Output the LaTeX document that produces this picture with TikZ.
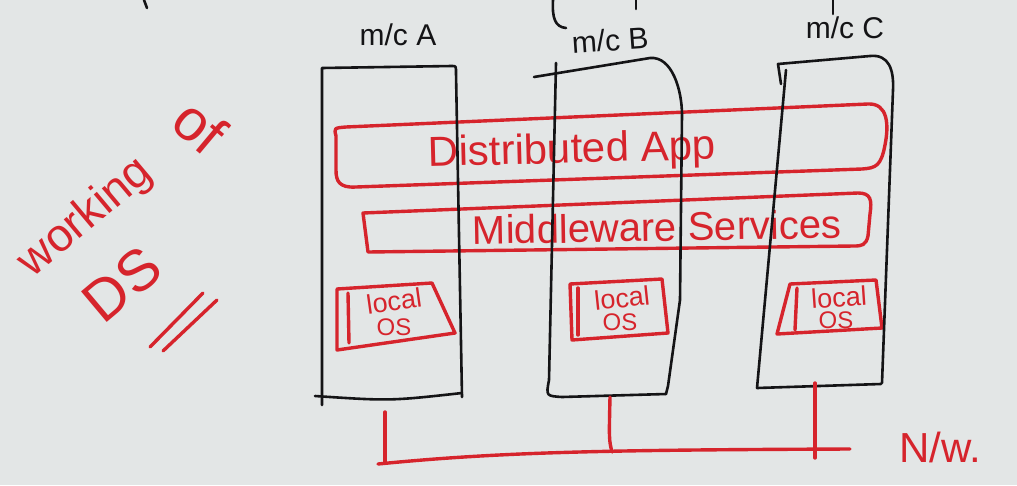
\documentclass[tikz,border=0pt]{standalone}
\usepackage{fontspec}
\setmainfont{Liberation Sans}
\definecolor{board}{RGB}{227,230,230}
\definecolor{ink}{RGB}{20,20,22}
\definecolor{marker}{RGB}{214,36,44}
\begin{document}
\begin{tikzpicture}[x=1pt,y=-1pt,
  blk/.style={draw=ink,line width=2.6pt,line cap=round,line join=round},
  rd/.style={draw=marker,line width=3.4pt,line cap=round,line join=round},
  rtext/.style={text=marker,inner sep=0pt},
  btext/.style={text=ink,inner sep=0pt,font=\fontsize{30}{32}\selectfont}]
\fill[board] (0,0) rectangle (1017,485);
\useasboundingbox (0,0) rectangle (1017,485);

% ---------- title on the left ----------
\node[rtext,rotate=40,font=\fontsize{46}{48}\selectfont] (working) at (86,218) {working};
\node[rtext,rotate=-40,font=\fontsize{58}{60}\selectfont] (of) at (200,126) {of};
\node[rtext,rotate=40,font=\fontsize{58}{60}\selectfont] (ds) at (122,284) {DS};
\draw[rd] (150,347) -- (203,293);
\draw[rd] (163,351) -- (217,300);

% ---------- red layers (drawn below the machines) ----------
\draw[rd] (336,136) .. controls (334,128) .. (346,127) -- (868,104)
  .. controls (888,103) and (889,125) .. (885,145)
  .. controls (881,166) and (876,168) .. (862,169) -- (356,187)
  .. controls (339,188) and (336,181) .. (336,170) -- cycle;
\node[rtext,rotate=1.5,font=\fontsize{42}{44}\selectfont] (app) at (572,152) {Distributed App};

\draw[rd] (363,213) -- (858,193) .. controls (871,193) and (872,200) .. (870,214)
  -- (868,236) .. controls (866,245) and (862,246) .. (854,246) -- (368,252) -- cycle;
\node[rtext,rotate=1,font=\fontsize{40}{42}\selectfont] (mw) at (657,227) {Middleware Services};

% local OS boxes
\draw[rd] (337,350) -- (337,289) -- (432,283) -- (455,333) -- cycle;
\draw[rd] (348,293) -- (349,343);
\node[rtext,rotate=8,font=\fontsize{27}{28}\selectfont] (osA1) at (394,301) {local};
\node[rtext,font=\fontsize{24}{26}\selectfont] (osA2) at (394,327) {OS};

\draw[rd] (572,340) -- (570,284) -- (662,279) -- (668,333) -- cycle;
\draw[rd] (578,288) -- (578,335);
\node[rtext,rotate=6,font=\fontsize{27}{28}\selectfont] (osB1) at (622,298) {local};
\node[rtext,font=\fontsize{24}{26}\selectfont] (osB2) at (620,322) {OS};

\draw[rd] (777,334) -- (790,284) -- (876,280) -- (882,328) -- cycle;
\draw[rd] (797,288) -- (795,330);
\node[rtext,rotate=4,font=\fontsize{27}{28}\selectfont] (osC1) at (839,297) {local};
\node[rtext,font=\fontsize{24}{26}\selectfont] (osC2) at (836,320) {OS};

% ---------- machines ----------
\node[btext] (lblA) at (398,35) {m/c A};
\node[btext,rotate=4] (lblB) at (610,40) {m/c B};
\node[btext] (lblC) at (845,28) {m/c C};

% machine A
\draw[blk] (322,405) -- (322,68) -- (452,66) .. controls (456,66) .. (456,73) -- (462,397);
\draw[blk] (315,396) .. controls (390,401) .. (462,393);
% machine B
\draw[blk] (534,77) -- (650,58) .. controls (672,56) and (682,90) .. (682,115)
  -- (680,300) -- (668,386) -- (666,394);
\draw[blk] (556,63) -- (549,380) .. controls (546,396) .. (562,397) -- (666,394);
% machine C
\draw[blk] (781,84) -- (778,64) -- (870,56) .. controls (889,54) and (894,70) .. (893,90)
  -- (882,383);
\draw[blk] (786,70) -- (757,388) -- (881,384);

% small cut-off strokes at the top edge
\draw[blk] (553,0) .. controls (552,18) and (555,27) .. (566,28);
\draw[blk] (636,0) -- (636,9);
\draw[blk] (833,0) -- (833,14);
\draw[blk] (144,0) -- (147,8);

% ---------- network ----------
\coordinate (aOut) at (385,412);
\coordinate (bOut) at (610,397);
\coordinate (cOut) at (815,383);
\coordinate (busL) at (378,464);
\coordinate (busR) at (850,449);
\coordinate (aIn) at (385,463);
\coordinate (bIn) at (612,452);
\coordinate (cIn) at (815,458);
\draw[rd] (busL) .. controls (500,452) and (600,450) .. (busR);
\draw[rd] (aOut) -- (aIn);
\draw[rd] (bOut) .. controls (609,440) .. (bIn);
\draw[rd] (cOut) -- (cIn);
\node[rtext,font=\fontsize{42}{44}\selectfont] (nw) at (940,447) {N/w.};
\end{tikzpicture}
\end{document}
